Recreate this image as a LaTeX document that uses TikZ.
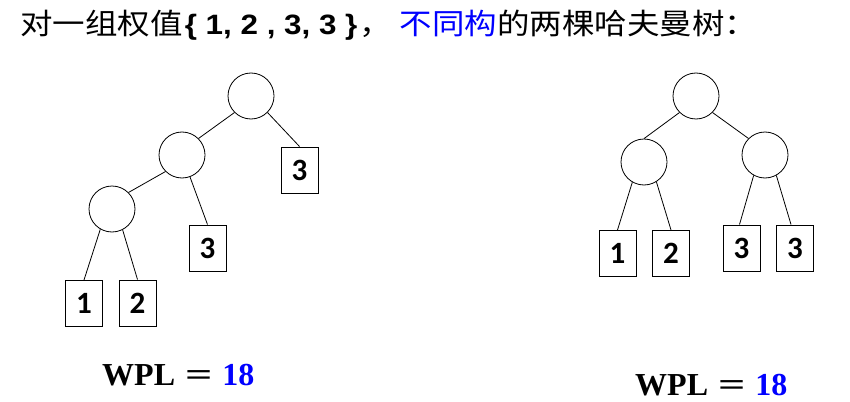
\documentclass[tikz,border=0pt]{standalone}
\usepackage{fontspec}
\usepackage{xcolor}
\setmainfont{Liberation Sans}
\newfontfamily\cjk{Noto Sans CJK SC}
\newfontfamily\leaffont{Carlito}
\newfontfamily\wplfont{Liberation Serif}
\definecolor{keyblue}{HTML}{0000FF}

\begin{document}
\begin{tikzpicture}[x=1pt, y=-1pt,
    inner/.style={draw, circle, minimum size=46pt, inner sep=0pt, line width=0.8pt},
    leaf/.style={draw, rectangle, minimum width=37pt, minimum height=46pt, inner sep=0pt,
                 line width=1pt, font=\leaffont\fontsize{31}{31}\selectfont\bfseries},
    edge/.style={line width=0.8pt},
    wpl/.style={anchor=base west, inner sep=0pt, font=\wplfont\fontsize{32}{32}\selectfont\bfseries}]
    \useasboundingbox (0,0) rectangle (850,401);

    % title
    \node[anchor=base west, inner sep=0pt] (title) at (20,35)
      {\scalebox{1.12}[1]{\fontsize{29}{29}\selectfont\cjk 对一组权值\hspace{2pt}{\fontsize{28}{28}\selectfont\rmfamily\bfseries\{ 1, 2 , 3, 3 \}}\hspace{2pt}，\hspace{7pt}\textcolor{keyblue}{不同构}的两棵哈夫曼树：}};

    % left tree
    \node[inner] (lroot) at (251,96) {};
    \node[inner] (lmid) at (182,155) {};
    \node[inner] (llow) at (112,209) {};
    \node[leaf] (lthree) at (299.5,170) {3};
    \node[leaf] (lthreeb) at (207.5,248) {3};
    \node[leaf] (lone) at (84,303.5) {1};
    \node[leaf] (ltwo) at (137.5,303) {2};

    \draw[edge] (lroot.south west) -- (lmid.north east);
    \draw[edge] (lroot.south east) -- (lthree.north);
    \draw[edge] (lmid.south west) -- (llow.north east);
    \draw[edge] (lmid.-70) -- (lthreeb.north);
    \draw[edge] (llow.-120) -- (lone.north);
    \draw[edge] (llow.-63) -- (ltwo.north);

    % right tree
    \node[inner] (rroot) at (696,96) {};
    \node[inner] (rleft) at (644,162) {};
    \node[inner] (rright) at (765,155) {};
    \node[leaf] (rone) at (617.5,253.5) {1};
    \node[leaf] (rtwo) at (671,253.5) {2};
    \node[leaf] (rthreea) at (741.5,248) {3};
    \node[leaf] (rthreeb) at (795,248) {3};

    \draw[edge] (rroot.south west) -- (rleft.north);
    \draw[edge] (rroot.south east) -- (rright.north west);
    \draw[edge] (rleft.-120) -- (rone.north);
    \draw[edge] (rleft.-58) -- (rtwo.north);
    \draw[edge] (rright.-119) -- ([xshift=-2pt]rthreea.north);
    \draw[edge] (rright.-61) -- ([xshift=-4pt]rthreeb.north);

    % path lengths
    \node[wpl] (lwpl) at (102,385) {WPL\hspace{10pt}\scalebox{1.5}[1]{=}\hspace{10pt}\textcolor{keyblue}{18}};
    \node[wpl] (rwpl) at (635,395) {WPL\hspace{10pt}\scalebox{1.5}[1]{=}\hspace{10pt}\textcolor{keyblue}{18}};
\end{tikzpicture}
\end{document}
